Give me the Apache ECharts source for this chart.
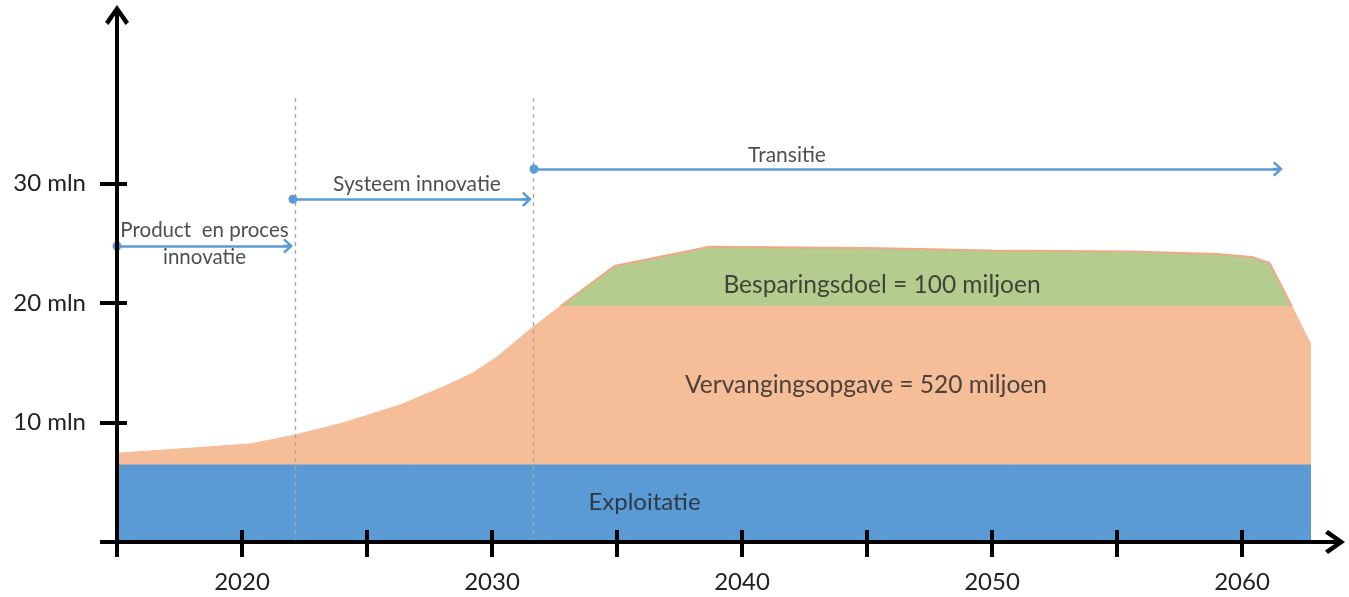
<!DOCTYPE html>
<html>
<head>
<meta charset="utf-8">
<script src="https://cdn.jsdelivr.net/npm/echarts@6/dist/echarts.min.js"></script>
<style>
html,body{margin:0;padding:0;background:#fff;}
#c{width:1349px;height:597px;}
</style>
</head>
<body>
<div id="c"></div>
<script>
// ---- data ----
var exploitatieYears = [2015, 2062.76];
var exploitatieValues = [6.44, 6.44];

var vervangingYears  = [2015, 2020.32, 2022.12, 2024.04, 2026.32, 2028.04, 2029.2, 2030.2, 2031.64, 2032.72, 2062.0, 2062.76];
var vervangingValues = [7.42, 8.2, 8.95, 9.96, 11.46, 12.97, 14.1, 15.48, 17.99, 19.7, 19.7, 16.5];

var besparingYears  = [2032.72, 2034.9, 2038.7, 2045, 2050, 2055.5, 2059, 2060.4, 2061.1, 2062.0];
var besparingValues = [19.7, 23.1, 24.7, 24.6, 24.4, 24.3, 24.1, 23.85, 23.35, 19.7];

var xTickValues  = [2015, 2020, 2025, 2030, 2035, 2040, 2045, 2050, 2055, 2060];
var xLabelValues = [2020, 2030, 2040, 2050, 2060];
var yTickValues  = [0, 10, 20, 30];
var yLabelValues = [10, 20, 30];

// phase boundaries (years) and arrows
var phaseBoundaries = [2022.12, 2031.64];
var phaseLineTop = 37.2;
var arrowStartYears = [2015, 2022.04, 2031.68];
var arrowEndYears   = [2021.84, 2031.39, 2061.43];
var arrowLevels     = [24.77, 28.68, 31.21];

// text annotations
var annotTexts = ['Product  en proces', 'innovatie', 'Systeem innovatie', 'Transitie',
                  'Besparingsdoel = 100 miljoen', 'Vervangingsopgave = 520 miljoen', 'Exploitatie'];
var annotYears  = [2018.5, 2018.5, 2027.0, 2041.8, 2045.6, 2044.96, 2036.1];
var annotValues = [26.1, 23.8, 29.95, 32.4, 21.5, 13.1, 3.35];

// ---- chart ----
var FONT = 'Lato, "Open Sans", sans-serif';
var TEXT = '#222222';
var BLUE = '#5B9BD5';
var axisArrow = 'path://M12,0 L24,17 L20.5,20 L14,10.5 L14,24 L10,24 L10,10.5 L3.5,20 L0,17 Z';
var lineArrow = 'path://M7,0 L14,8 L12.5,10 L8.2,5 L8.2,10 L5.8,10 L5.8,5 L1.5,10 L0,8 Z';

function pairs(xs, ys) { return xs.map(function (x, i) { return [x, ys[i]]; }); }

var annotSizes = [20.5, 20.5, 21, 21, 24.5, 24.5, 24];
var annotData = annotTexts.map(function (t, i) {
  return { value: [annotYears[i], annotValues[i]], label: { formatter: t, fontSize: annotSizes[i] } };
});

var markLines = [];
phaseBoundaries.forEach(function (x) {
  markLines.push([
    { coord: [x, 0], symbol: 'none', lineStyle: { color: '#A6A6A6', width: 1.3, type: [4, 4] } },
    { coord: [x, phaseLineTop], symbol: 'none' }
  ]);
});
arrowStartYears.forEach(function (x, i) {
  markLines.push([
    { coord: [x, arrowLevels[i]], symbol: 'circle', symbolSize: 9, lineStyle: { color: BLUE, width: 2.5, type: 'solid' } },
    { coord: [arrowEndYears[i], arrowLevels[i]], symbol: lineArrow, symbolSize: [15, 10] }
  ]);
});

var chart = echarts.init(document.getElementById('c'), null, { renderer: 'canvas' });
chart.setOption({
  animation: false,
  backgroundColor: '#ffffff',
  grid: { left: 117, right: 16, top: 17, bottom: 55 },
  xAxis: [{
    type: 'value', min: 2015, max: 2063.64, position: 'bottom', z: 10,
    axisLine: { show: true, symbol: ['none', axisArrow], symbolSize: [24, 24], lineStyle: { color: '#000', width: 4 } },
    axisTick: { show: true, inside: false, length: 15, customValues: xTickValues, lineStyle: { color: '#000', width: 4 } },
    axisLabel: { show: true, customValues: xLabelValues, margin: 28, fontSize: 24, fontFamily: FONT, color: TEXT,
                 formatter: function (v) { return String(v); } },
    splitLine: { show: false }
  }, {
    type: 'value', min: 2015, max: 2063.64, position: 'bottom', z: 10,
    axisLine: { show: false },
    axisTick: { show: true, inside: true, length: 12, customValues: xTickValues.slice(1), lineStyle: { color: '#000', width: 4 } },
    axisLabel: { show: false },
    splitLine: { show: false }
  }],
  yAxis: [{
    type: 'value', min: 0, max: 43.93, position: 'left', z: 10,
    axisLine: { show: true, symbol: ['none', axisArrow], symbolSize: [24, 24], lineStyle: { color: '#000', width: 4 } },
    axisTick: { show: true, inside: false, length: 17, customValues: yTickValues, lineStyle: { color: '#000', width: 4 } },
    axisLabel: { show: true, customValues: yLabelValues, margin: 31, fontSize: 24, fontFamily: FONT, color: TEXT,
                 formatter: function (v) { return v + ' mln'; } },
    splitLine: { show: false }
  }, {
    type: 'value', min: 0, max: 43.93, position: 'left', z: 10,
    axisLine: { show: false },
    axisTick: { show: true, inside: true, length: 10, customValues: yLabelValues, lineStyle: { color: '#000', width: 4 } },
    axisLabel: { show: false },
    splitLine: { show: false }
  }],
  series: [{
    name: 'Besparingsdoel', type: 'line', z: 2, symbol: 'none', silent: true,
    data: pairs(besparingYears, besparingValues),
    lineStyle: { color: '#EFA987', width: 2 },
    areaStyle: { color: '#B4CC8E', opacity: 1 }
  }, {
    name: 'Vervangingsopgave', type: 'line', z: 3, symbol: 'none', silent: true,
    data: pairs(vervangingYears, vervangingValues),
    lineStyle: { color: '#F5BD98', width: 1 },
    areaStyle: { color: '#F5BD98', opacity: 1 }
  }, {
    name: 'Exploitatie', type: 'line', z: 4, symbol: 'none', silent: true,
    data: pairs(exploitatieYears, exploitatieValues),
    lineStyle: { color: BLUE, width: 1 },
    areaStyle: { color: BLUE, opacity: 1 }
  }, {
    name: 'annotations', type: 'scatter', z: 6, symbolSize: 0, silent: true,
    data: annotData,
    label: { show: true, position: 'inside', color: TEXT, fontFamily: FONT },
    markLine: { silent: true, animation: false, label: { show: false }, emphasis: { disabled: true },
                data: markLines }
  }]
});
</script>
</body>
</html>
